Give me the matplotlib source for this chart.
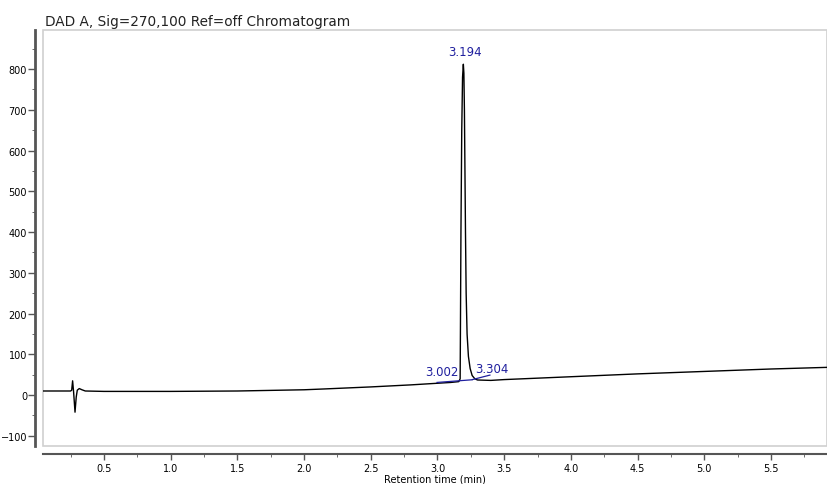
import matplotlib
matplotlib.use("Agg")
import matplotlib.pyplot as plt
from matplotlib.patches import Rectangle
from matplotlib.ticker import MultipleLocator

# signal (min, mAU)
time_min = [0.04, 0.20, 0.250, 0.258, 0.265, 0.273, 0.283, 0.292, 0.300, 0.315, 0.335, 0.36,
            0.50, 1.00, 1.50, 2.00, 2.15, 2.50, 2.80, 3.00, 3.10, 3.16, 3.170, 3.172, 3.176,
            3.182, 3.188, 3.194, 3.198, 3.202, 3.206, 3.210, 3.215, 3.222, 3.232,
            3.245, 3.260, 3.280, 3.300, 3.400, 3.500, 4.00, 4.50, 5.00, 5.50, 5.92]
signal = [10, 10, 10, 12, 35, 5, -42, -5, 12, 16, 13, 10,
          9, 9, 10, 13, 15, 20, 25, 29, 31, 33, 40, 150, 400,
          650, 780, 812, 790, 700, 550, 400, 250, 150, 95,
          65, 48, 40, 37, 36, 38, 45, 52, 58, 64, 68]

# peak labels
peak_rt = ["3.002", "3.194", "3.304"]
label_x = [3.03, 3.206, 3.41]
label_y = [59, 844, 66]

# integration baseline and leader line
base_x = [2.997, 3.258]
base_y = [31, 37.5]
lead_x = [3.262, 3.393]
lead_y = [38, 49]

blue = "#1f1f9e"
axcol = "#555555"

fig = plt.figure(figsize=(8.27, 4.85), dpi=100)
ax = fig.add_axes([43 / 827, 38 / 485, 1 - 43 / 827, (447 - 31) / 485])

ax.plot(time_min, signal, color="black", linewidth=1.0)
ax.plot(base_x, base_y, color=blue, linewidth=0.9)
ax.plot(lead_x, lead_y, color=blue, linewidth=0.9)
for s, x, y in zip(peak_rt, label_x, label_y):
    ax.text(x, y, s, color=blue, fontsize=8.5, ha="center", va="center")

ax.set_xlim(0.043, 5.92)
ax.set_ylim(-125, 896)

for side in ["top", "right"]:
    ax.spines[side].set_visible(False)
for side in ["left", "bottom"]:
    ax.spines[side].set_position(("outward", 6))
    ax.spines[side].set_color(axcol)
ax.spines["left"].set_linewidth(2)
ax.spines["bottom"].set_linewidth(1.5)

# light frame round the plot area
ax.add_patch(Rectangle((0, 0), 1, 1, transform=ax.transAxes, fill=False,
                       edgecolor="#d0d0d0", linewidth=1.2, clip_on=False))

ax.xaxis.set_major_locator(MultipleLocator(0.5))
ax.xaxis.set_minor_locator(MultipleLocator(0.25))
ax.yaxis.set_major_locator(MultipleLocator(100))
ax.yaxis.set_minor_locator(MultipleLocator(50))
ax.xaxis.set_major_formatter(plt.FuncFormatter(lambda v, p: f"{v:.1f}"))
ax.tick_params(axis="both", which="major", labelsize=7, color=axcol, width=1)
ax.tick_params(axis="y", which="major", length=5, pad=0.5)
ax.tick_params(axis="y", which="minor", length=2.5, color=axcol)
ax.tick_params(axis="x", which="major", length=4, pad=2.5)
ax.tick_params(axis="x", which="minor", length=2.5, color=axcol)

ax.set_xlabel("Retention time (min)", fontsize=7, labelpad=0)
fig.text(45 / 827, 1 - 22 / 485, "DAD A, Sig=270,100 Ref=off Chromatogram",
         fontsize=9.8, va="center", ha="left", color="#222222")

fig.savefig("out.png", dpi=100)
